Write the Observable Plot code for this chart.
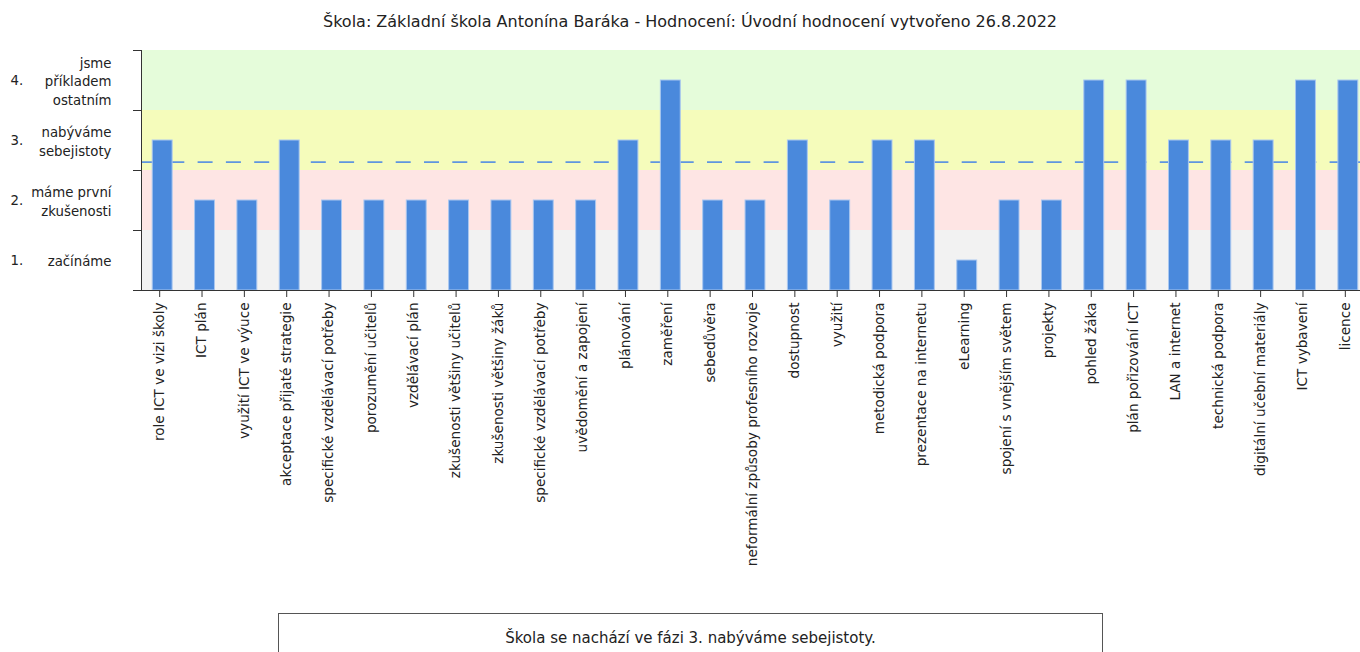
<!DOCTYPE html>
<html>
<head>
<meta charset="utf-8">
<script src="https://cdn.jsdelivr.net/npm/d3@7"></script>
<script src="https://cdn.jsdelivr.net/npm/@observablehq/plot@0.6"></script>
<style>
  html, body { margin: 0; padding: 0; background: #fff; overflow: hidden; font-family: "DejaVu Sans", sans-serif; }
  #title { height: 40px; line-height: 44px; font-size: 16px; color: #222; text-align: center; padding-left: 20px; width: 1340px; white-space: nowrap; }
  #chart svg { display: block; overflow: visible; }
  #box { position: absolute; left: 278px; top: 613px; width: 825px; height: 60px; border: 1px solid #555; box-sizing: border-box; text-align: center; line-height: 48px; font-size: 15px; color: #222; }
</style>
</head>
<body>
<div id="title">Škola: Základní škola Antonína Baráka - Hodnocení: Úvodní hodnocení vytvořeno 26.8.2022</div>
<div id="chart"></div>
<div id="box">Škola se nachází ve fázi 3. nabýváme sebejistoty.</div>
<script>
const categories = [
  "role ICT ve vizi školy", "ICT plán", "využití ICT ve výuce", "akceptace přijaté strategie",
  "specifické vzdělávací potřeby", "porozumění učitelů", "vzdělávací plán", "zkušenosti většiny učitelů",
  "zkušenosti většiny žáků", "specifické vzdělávací potřeby", "uvědomění a zapojení", "plánování",
  "zaměření", "sebedůvěra", "neformální způsoby profesního rozvoje", "dostupnost", "využití",
  "metodická podpora", "prezentace na internetu", "eLearning", "spojení s vnějším světem", "projekty",
  "pohled žáka", "plán pořizování ICT", "LAN a internet", "technická podpora",
  "digitální učební materiály", "ICT vybavení", "licence"
];
// phase level reached (1–4); bars are drawn to the middle of the phase band
const levels = [3, 2, 2, 3, 2, 2, 2, 2, 2, 2, 2, 3, 4, 2, 2, 3, 2, 3, 3, 1, 2, 2, 4, 4, 3, 3, 3, 4, 4];
const averageLine = 2.14;

const phaseNumbers = ["1.", "2.", "3.", "4."];
const phaseNames = ["začínáme", "máme první\nzkušenosti", "nabýváme\nsebejistoty", "jsme\npříkladem\nostatním"];
const phaseColors = ["#f2f2f2", "#fee5e4", "#f5fcbb", "#e5fcda"];
const yTicks = [0, 1, 2, 3, 4];

const bars = categories.map((name, i) => ({i, name, value: levels[i] - 0.5}));
const bands = phaseNumbers.map((n, k) => ({lo: k, hi: k + 1, mid: k + 0.5, num: n, name: phaseNames[k], color: phaseColors[k]}));

const chart = Plot.plot({
  width: 1360,
  height: 565,
  marginTop: 10,
  marginLeft: 141,
  marginRight: 0,
  marginBottom: 315,
  style: {fontFamily: "DejaVu Sans, sans-serif", fontSize: "13.6px", color: "#222", background: "transparent"},
  x: {domain: d3.range(categories.length), range: [141, 1369], round: false, paddingInner: 0.53, paddingOuter: 0.265, label: null},
  y: {domain: [0, 4], label: null},
  color: {type: "identity"},
  marks: [
    Plot.rect(bands, {y1: "lo", y2: "hi", fill: "color"}),
    Plot.ruleY([averageLine], {stroke: "#5f95df", strokeWidth: 1.8, strokeDasharray: "15,13.3"}),
    Plot.barY(bars, {x: "i", y: "value", fill: "#4a89dc", stroke: "#a9c7f0", strokeWidth: 1}),
    Plot.ruleY([0], {stroke: "#333"}),
    Plot.frame({anchor: "left", stroke: "#333"}),
    Plot.axisY({ticks: yTicks, tickSize: 8, tickFormat: () => "", stroke: "#333"}),
    Plot.axisX({tickSize: 7, tickPadding: 5, tickRotate: -90, tickFormat: (i) => categories[i], fontSize: 13.6, stroke: "#333", dx: -3}),
    Plot.text(bands, {y: "mid", text: "name", frameAnchor: "left", dx: -30, textAnchor: "end", lineHeight: 1.4, fontSize: 13.3, fill: "#222"}),
    Plot.text(bands, {y: "mid", text: "num", frameAnchor: "left", dx: -131, textAnchor: "start", fontSize: 13.3, fill: "#222"})
  ]
});
document.getElementById("chart").appendChild(chart);
</script>
</body>
</html>
